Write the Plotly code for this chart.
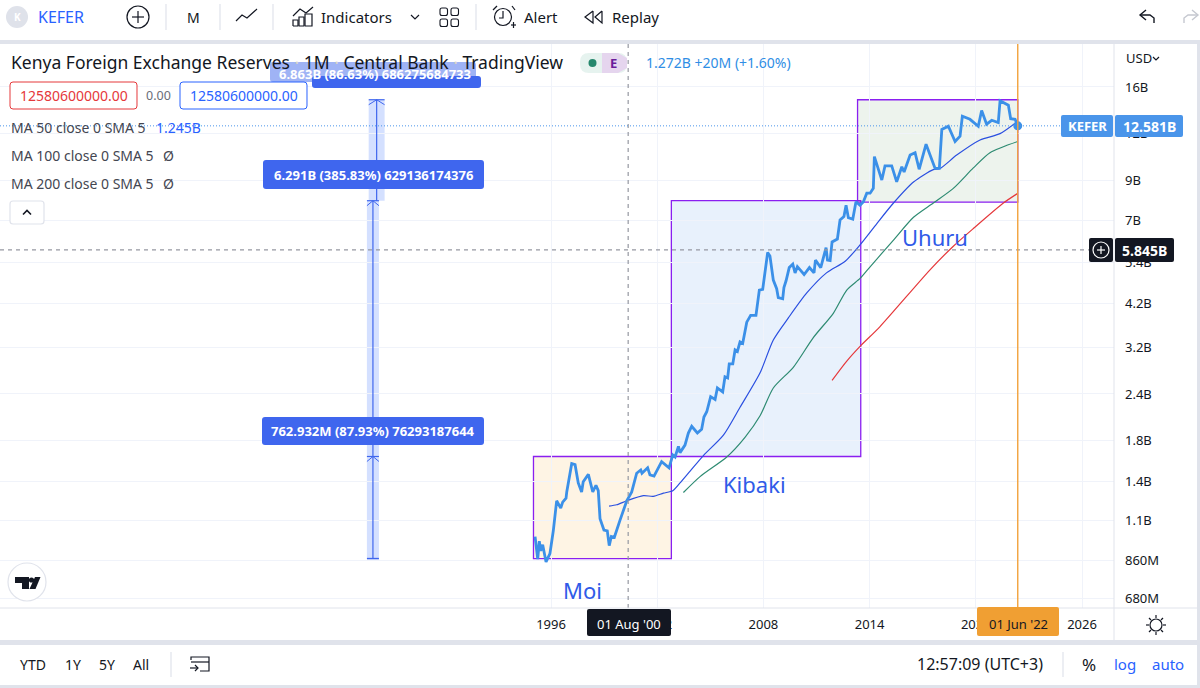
import math
import plotly.graph_objects as go

# chart values, dates as decimal years, reserves in billions of USD
reserve_yr = [1995.10, 1995.25, 1995.34, 1995.42, 1995.53, 1995.72, 1995.94, 1996.13, 1996.32, 1996.55, 1996.66, 1996.85,
              1996.89, 1997.17, 1997.36, 1997.54, 1997.73, 1997.82, 1998.11, 1998.36, 1998.54, 1998.67, 1998.77, 1998.99,
              1999.18, 1999.29, 1999.41, 1999.58, 1999.90, 2000.28, 2000.56, 2000.84, 2001.07, 2001.14, 2001.46, 2001.59,
              2001.82, 2002.25, 2002.67, 2002.88, 2003.01, 2003.20, 2003.29, 2003.57, 2003.76, 2003.95, 2004.27, 2004.51,
              2004.64, 2004.80, 2005.02, 2005.27, 2005.40, 2005.70, 2005.83, 2005.98, 2006.07, 2006.27, 2006.40, 2006.53,
              2006.68, 2006.83, 2007.06, 2007.28, 2007.58, 2007.77, 2007.96, 2008.24, 2008.37, 2008.56, 2008.75, 2008.84,
              2009.09, 2009.16, 2009.28, 2009.46, 2009.66, 2009.79, 2009.92, 2010.30, 2010.60, 2010.86, 2010.94, 2011.24,
              2011.54, 2011.62, 2011.77, 2011.88, 2012.18, 2012.33, 2012.55, 2012.67, 2012.80, 2013.05, 2013.23, 2013.46,
              2013.65, 2013.84, 2014.03, 2014.21, 2014.27, 2014.69, 2014.87, 2015.25, 2015.53, 2015.82, 2015.95, 2016.29,
              2016.57, 2016.80, 2017.19, 2017.46, 2017.70, 2017.94, 2018.08, 2018.45, 2018.83, 2019.11, 2019.24, 2019.67,
              2020.14, 2020.33, 2020.61, 2020.90, 2021.27, 2021.37, 2021.84, 2021.97, 2022.22, 2022.37]
reserve_val = [0.994, 0.865, 0.966, 0.91, 0.945, 0.85, 0.895, 1.03, 1.24, 1.185, 1.23, 1.26,
               1.31, 1.56, 1.55, 1.385, 1.31, 1.395, 1.46, 1.31, 1.365, 1.32, 1.11, 1.035,
               1.03, 0.94, 0.995, 0.99, 1.10, 1.24, 1.31, 1.47, 1.50, 1.47, 1.52, 1.455,
               1.445, 1.58, 1.52, 1.645, 1.625, 1.735, 1.67, 1.75, 1.885, 1.965, 1.885, 1.93,
               2.08, 2.15, 2.36, 2.32, 2.49, 2.43, 2.67, 2.65, 2.89, 2.89, 3.15, 3.12,
               3.31, 3.28, 3.74, 3.90, 3.90, 4.56, 4.58, 5.75, 5.63, 4.85, 4.60, 4.35,
               4.32, 4.63, 4.83, 5.24, 5.35, 5.07, 5.27, 5.02, 5.24, 5.07, 5.49, 5.24,
               5.93, 5.49, 5.47, 6.14, 6.25, 7.03, 7.18, 7.70, 7.13, 7.07, 7.87, 7.70,
               7.87, 8.30, 8.30, 8.55, 10.4, 9.0, 9.82, 9.82, 8.9, 9.77, 9.46, 10.5,
               10.66, 9.62, 11.23, 10.38, 9.67, 9.67, 12.3, 12.55, 11.42, 11.8, 13.35, 13.1,
               12.55, 13.83, 12.71, 13.02, 12.84, 14.7, 14.29, 13.15, 13.1, 12.581]

ma50_yr = [1999.28, 1999.71, 2000.28, 2001.22, 2001.78, 2002.35, 2002.88, 2003.29, 2003.86, 2004.61, 2005.74, 2006.68,
           2007.82, 2008.56, 2009.41, 2010.45, 2011.58, 2012.62, 2013.46, 2014.41, 2015.35, 2016.48, 2017.60, 2017.98,
           2018.92, 2020.24, 2021.37, 2022.37]
ma50_val = [1.20, 1.21, 1.24, 1.28, 1.275, 1.30, 1.32, 1.385, 1.49, 1.64, 1.86, 2.21,
            2.74, 3.35, 3.84, 4.48, 5.08, 5.45, 6.03, 6.88, 7.81, 8.89, 9.6, 9.67,
            10.5, 11.53, 11.99, 12.95]
ma100_yr = [2003.48, 2004.42, 2005.93, 2006.96, 2007.82, 2008.56, 2009.69, 2010.82, 2011.95, 2012.71, 2013.46, 2013.93,
            2015.35, 2016.48, 2017.60, 2018.73, 2019.86, 2020.80, 2022.37]
ma100_val = [1.305, 1.44, 1.625, 1.835, 2.10, 2.49, 2.83, 3.40, 3.95, 4.56, 4.90, 5.20,
             6.21, 7.15, 7.81, 8.55, 9.7, 10.66, 11.42]
ma200_yr = [2011.88, 2012.71, 2013.46, 2014.59, 2017.40, 2018.73, 2019.86, 2021.56, 2022.37]
ma200_val = [2.61, 2.94, 3.22, 3.64, 5.16, 5.98, 6.67, 7.81, 8.29]

year_ticks = [1996, 2002, 2008, 2014, 2020, 2026]
price_ticks = [16, 12, 9, 7, 5.4, 4.2, 3.2, 2.4, 1.8, 1.4, 1.1, 0.86, 0.68]
price_labels = ['16B', '12B', '9B', '7B', '5.4B', '4.2B', '3.2B', '2.4B', '1.8B', '1.4B', '1.1B', '860M', '680M']

# presidency boxes: name, start, end, low, high
era_names = ['Moi', 'Kibaki', 'Uhuru']
era_start = [1995.01, 2002.80, 2013.32]
era_end = [2002.80, 2013.50, 2022.37]
era_low = [0.8676, 1.6305, 7.85]
era_high = [1.6305, 7.9215, 14.785]
era_fill = ['rgba(245,166,35,0.12)', 'rgba(33,118,230,0.10)', 'rgba(76,140,74,0.10)']

measure_low = [0.8676, 1.6305, 7.9215]
measure_high = [1.6305, 7.9215, 14.785]
measure_yr = [1985.94, 1985.94, 1986.15]
measure_halfwidth = [0.34, 0.34, 0.45]

cross_yr = 2000.36
cross_val = 5.845

W, H = 1200, 688
L, R, T, B = 0, 1114, 44, 608
X_RANGE = [1996 - 551 / 17.7, 1996 + 563 / 17.7]
Y_RANGE = [-0.1943, 1.3194]
FONT = 'Noto Sans'
BLUE = '#2962ff'
LABEL = '#3f66ee'
PURPLE = '#8a1ff0'
DARK = '#131722'
BORDER = '#e0e3eb'

shapes = []
notes = []


def xp(px):
    return (px - L) / (R - L)


def yp(py):
    return (B - py) / (B - T)


def yr_px(yr):
    return L + (yr - X_RANGE[0]) / (X_RANGE[1] - X_RANGE[0]) * (R - L)


def val_px(v):
    return B - (math.log10(v) - Y_RANGE[0]) / (Y_RANGE[1] - Y_RANGE[0]) * (B - T)


def draw(d, fill=None, line=None, w=1.0, layer='above', dash=None):
    shapes.append(dict(type='path', path=d, xref='paper', yref='paper', layer=layer,
                       fillcolor=fill or 'rgba(0,0,0,0)',
                       line=dict(color=line or 'rgba(0,0,0,0)', width=w if line else 0, dash=dash)))


def poly(pts, close=False):
    d = 'M' + ' L'.join(f'{xp(x):.5f},{yp(y):.5f}' for x, y in pts)
    return d + (' Z' if close else '')


def seg(pts, color=DARK, w=1.2):
    draw(poly(pts), line=color, w=w)


def rrect(x0, y0, x1, y1, r=3, fill=None, line=None, w=1.0):
    c = lambda x, y: f'{xp(x):.5f},{yp(y):.5f}'
    d = (f'M{c(x0 + r, y0)} L{c(x1 - r, y0)} Q{c(x1, y0)} {c(x1, y0 + r)} L{c(x1, y1 - r)} Q{c(x1, y1)} {c(x1 - r, y1)} '
         f'L{c(x0 + r, y1)} Q{c(x0, y1)} {c(x0, y1 - r)} L{c(x0, y0 + r)} Q{c(x0, y0)} {c(x0 + r, y0)} Z')
    draw(d, fill=fill, line=line, w=w)


def circle(cx, cy, r, fill=None, line=None, w=1.2):
    shapes.append(dict(type='circle', xref='paper', yref='paper', layer='above',
                       x0=xp(cx - r), x1=xp(cx + r), y0=yp(cy + r), y1=yp(cy - r),
                       fillcolor=fill or 'rgba(0,0,0,0)',
                       line=dict(color=line or 'rgba(0,0,0,0)', width=w if line else 0)))


def text(x, y, s, size=14, color=DARK, anchor='left'):
    notes.append(dict(x=xp(x), y=yp(y), text=s, xref='paper', yref='paper', showarrow=False,
                      xanchor=anchor, yanchor='middle', align=anchor, borderpad=0,
                      font=dict(family=FONT, size=size, color=color)))


fig = go.Figure()
smooth = dict(shape='spline', smoothing=0.7, width=1.2)
fig.add_trace(go.Scatter(x=ma200_yr, y=ma200_val, mode='lines', line=dict(color='#e5383b', **smooth)))
fig.add_trace(go.Scatter(x=ma100_yr, y=ma100_val, mode='lines', line=dict(color='#2e8b72', **smooth)))
fig.add_trace(go.Scatter(x=ma50_yr, y=ma50_val, mode='lines', line=dict(color='#2a4fe0', **smooth)))
fig.add_trace(go.Scatter(x=reserve_yr, y=reserve_val, mode='lines', line=dict(color='#3b90e8', width=2.8)))
fig.add_trace(go.Scatter(x=reserve_yr[-1:], y=reserve_val[-1:], mode='markers',
                         marker=dict(color='#3b90e8', size=9)))

# presidency boxes
for i in range(len(era_names)):
    shapes.append(dict(type='rect', xref='x', yref='y', layer='below',
                       x0=era_start[i], x1=era_end[i], y0=era_low[i], y1=era_high[i],
                       fillcolor=era_fill[i], line=dict(color=PURPLE, width=1.3)))

# measure tool
for i in range(3):
    hw = measure_halfwidth[i]
    shapes.append(dict(type='rect', xref='x', yref='y', layer='below',
                       x0=measure_yr[i] - hw, x1=measure_yr[i] + hw, y0=measure_low[i], y1=measure_high[i],
                       fillcolor='rgba(41,98,255,0.2)', line=dict(width=0)))
    cx = yr_px(measure_yr[i])
    top, bot = val_px(measure_high[i]), val_px(measure_low[i])
    half = hw * 17.7
    seg([(cx, bot), (cx, top)], color=LABEL, w=1.2)
    seg([(cx - half, top), (cx + half, top)], color=LABEL, w=1.2)
    seg([(cx - half, top + 5), (cx, top), (cx + half, top + 5)], color=LABEL, w=1.0)
seg([(yr_px(measure_yr[0]) - 6, val_px(measure_low[0])), (yr_px(measure_yr[0]) + 6, val_px(measure_low[0]))], color=LABEL, w=1.5)

# crosshair, last price line, date marker
shapes.append(dict(type='line', xref='x', yref='paper', x0=cross_yr, x1=cross_yr, y0=0, y1=1, layer='above',
                   line=dict(color='#9598a1', width=1.2, dash='4px,4px')))
shapes.append(dict(type='line', xref='paper', yref='y', x0=0, x1=xp(1089), y0=cross_val, y1=cross_val, layer='above',
                   line=dict(color='#9598a1', width=1.2, dash='4px,4px')))
shapes.append(dict(type='line', xref='paper', yref='y', x0=0, x1=xp(1061), y0=reserve_val[-1], y1=reserve_val[-1],
                   layer='above', line=dict(color='#4a95ea', width=1, dash='1px,2px')))
shapes.append(dict(type='line', xref='x', yref='paper', x0=reserve_yr[-1], x1=reserve_yr[-1], y0=0, y1=1, layer='above',
                   line=dict(color='#f2a23c', width=1.4)))

# panel frame
draw(poly([(0, 40), (W, 40), (W, 44), (0, 44)], True), fill=BORDER)
draw(poly([(0, 640), (W, 640), (W, 645), (0, 645)], True), fill=BORDER)
draw(poly([(0, 685), (W, 685), (W, H), (0, H)], True), fill=BORDER)
draw(poly([(1197, 40), (W, 40), (W, H), (1197, H)], True), fill=BORDER)
seg([(R, 44), (R, 640)], color=BORDER, w=1)
seg([(0, 608), (1197, 608)], color=BORDER, w=1)

# top toolbar
circle(17, 17, 11, fill='#dfe2ea')
text(17, 17, '<b>K</b>', 10, 'white', 'center')
text(37, 17, 'KEFER', 16, BLUE)
circle(138, 17, 11, line=DARK)
seg([(132, 17), (144, 17)])
seg([(138, 11), (138, 23)])
for x in (166, 220, 273, 476):
    seg([(x, 4), (x, 30)], color=BORDER, w=1.2)
text(193, 17, 'M', 14, DARK, 'center')
seg([(236, 21), (242, 15), (247, 18), (257, 9)])
seg([(293, 16), (300, 9), (306, 13), (313, 7)])
seg([(293, 26), (293, 20), (298, 20), (298, 26), (293, 26)])
seg([(299, 26), (299, 17), (304, 17), (304, 26), (299, 26)])
seg([(305, 26), (305, 14), (312, 14), (312, 26), (305, 26)])
text(320, 17, 'Indicators', 15)
seg([(411, 15), (415, 19), (419, 15)])
for a, b in ((440, 8), (451, 8), (440, 19), (451, 19)):
    rrect(a, b, a + 7.5, b + 7.5, 2, line=DARK, w=1.1)
circle(503, 17, 8.5, line=DARK)
seg([(503, 11), (503, 18), (499, 18)])
seg([(493, 10), (497, 6)])
seg([(512, 6), (515, 10)])
seg([(511, 25), (516, 25)], w=1.2)
seg([(513.5, 22), (513.5, 28)], w=1.2)
text(523, 17, 'Alert', 15)
seg([(593, 11), (585, 17), (593, 23), (593, 11)])
seg([(602, 11), (595, 17), (602, 23), (602, 11)])
text(611, 17, 'Replay', 15)
seg([(1146, 10), (1140, 15), (1146, 20)], w=1.4)
seg([(1140, 15), (1150, 15), (1154, 18), (1154, 23)], w=1.4)
seg([(1192, 10), (1198, 15), (1192, 20)], color='#c5c8d0', w=1.4)
seg([(1198, 15), (1188, 15), (1184, 18), (1184, 23)], color='#c5c8d0', w=1.4)

# measure labels
rrect(270, 62, 476, 82, 3, fill='#9fb3f5')
rrect(312, 76, 481, 88, 3, fill=LABEL)
rrect(263, 160, 484, 189, 3, fill=LABEL)
rrect(262, 417, 484, 445, 3, fill=LABEL)
text(375, 74, '<b>6.863B (86.63%) 686275684733</b>', 13, 'white', 'center')
text(373, 174.5, '<b>6.291B (385.83%) 629136174376</b>', 13, 'white', 'center')
text(373, 431, '<b>762.932M (87.93%) 76293187644</b>', 13, 'white', 'center')

# legend
dot = '<span style="color:#d8d4c8"> · </span>'
text(10, 62, f'Kenya Foreign Exchange Reserves{dot}1M{dot}Central Bank{dot}TradingView', 17.5)
rrect(10, 82, 137, 109, 3, fill='white', line='#e5383b')
text(73.5, 95, '12580600000.00', 14, '#e5383b', 'center')
text(158, 95, '0.00', 12.5, '#6a6d78', 'center')
rrect(180, 82, 307, 109, 3, fill='white', line=BLUE)
text(243.5, 95, '12580600000.00', 14, BLUE, 'center')
text(10, 127, 'MA 50 close 0 SMA 5', 14, '#434651')
text(155, 127, '1.245B', 14, BLUE)
text(10, 155, 'MA 100 close 0 SMA 5', 14, '#434651')
text(162, 155, 'Ø', 14, '#434651')
text(10, 183, 'MA 200 close 0 SMA 5', 14, '#434651')
text(162, 183, 'Ø', 14, '#434651')
rrect(10, 201, 44, 224, 3, fill='white', line=BORDER, w=1.2)
seg([(23, 214.5), (27, 210.5), (31, 214.5)], w=1.6)
rrect(580, 53, 627, 73, 9, fill='#e6f3ef')
draw(poly([(602, 53), (618, 53), (627, 58), (627, 68), (618, 73), (602, 73)], True), fill='#e5d5ee')
circle(592.5, 63, 4, fill='#26886d')
text(613, 63, '<b>E</b>', 13, '#6a1b9a', 'center')
text(645, 63, '1.272B +20M (+1.60%)', 14, '#2f8ee5')

# names on the chart
for i, name in enumerate(era_names):
    text([582, 754, 935][i], [590, 484, 237][i], name, 22, '#2f5be8', 'center')

# price scale tags
rrect(1061, 115, 1113, 137, 2, fill='#4a95ea')
rrect(1115, 115, 1183, 137, 2, fill='#4a95ea')
text(1087, 126, '<b>KEFER</b>', 13, 'white', 'center')
text(1149, 126, '<b>12.581B</b>', 14, 'white', 'center')
rrect(1089, 238, 1113, 262, 2, fill=DARK)
rrect(1115, 238, 1174, 262, 2, fill=DARK)
circle(1101, 250, 8, line='white')
seg([(1097, 250), (1105, 250)], color='white')
seg([(1101, 246), (1101, 254)], color='white')
text(1144.5, 250, '<b>5.845B</b>', 14, 'white', 'center')
text(1125, 58, 'USD', 13, '#131722')
seg([(1153, 57), (1156, 60), (1159, 57)])

# time scale tags
rrect(587, 609, 671, 636, 2, fill=DARK)
text(629, 624, "01 Aug '00", 13, 'white', 'center')
rrect(977, 607, 1059, 636, 2, fill='#f09f33')
text(1018, 624, "01 Jun '22", 13, DARK, 'center')
circle(1156, 625, 6, line=DARK)
for a, b, c, d in ((1156, 615, 1156, 618), (1156, 632, 1156, 635), (1146, 625, 1149, 625), (1163, 625, 1166, 625),
                   (1149, 618, 1151, 620), (1161, 630, 1163, 632), (1149, 632, 1151, 630), (1161, 620, 1163, 618)):
    seg([(a, b), (c, d)])

# bottom toolbar
text(33, 664, 'YTD', 14, DARK, 'center')
text(73, 664, '1Y', 14, DARK, 'center')
text(107, 664, '5Y', 14, DARK, 'center')
text(141, 664, 'All', 14, DARK, 'center')
seg([(171, 652), (171, 677)], color=BORDER, w=1.2)
seg([(191, 660), (191, 657), (209, 657), (209, 671), (200, 671)])
seg([(191, 662), (209, 662)])
seg([(190, 668), (198, 668)])
seg([(195, 665), (198, 668), (195, 671)])
text(980, 664, '12:57:09 (UTC+3)', 16, DARK, 'center')
seg([(1063, 652), (1063, 677)], color=BORDER, w=1.2)
text(1089, 664, '%', 17, DARK, 'center')
text(1125, 664, 'log', 15, BLUE, 'center')
text(1168, 664, 'auto', 15, BLUE, 'center')

# TradingView badge
circle(27, 582, 19, fill='white', line=BORDER)
draw(poly([(15, 577), (29, 577), (29, 589), (22, 589), (22, 583), (15, 583)], True), fill=DARK)
circle(31.5, 580, 2.6, fill=DARK)
draw(poly([(29.5, 589), (35, 577), (40.5, 577), (35.5, 589)], True), fill=DARK)

fig.update_layout(
    width=W, height=H, margin=dict(l=L, r=W - R, t=T, b=H - B),
    paper_bgcolor='white', plot_bgcolor='white', showlegend=False,
    font=dict(family=FONT, size=13, color=DARK),
    shapes=shapes, annotations=notes,
    xaxis=dict(range=X_RANGE, tickmode='array', tickvals=year_ticks, ticktext=[str(y) for y in year_ticks],
               showgrid=True, gridcolor='#f0f3fa', zeroline=False, showline=False, ticks='', ticklabelstandoff=7,
               tickfont=dict(family=FONT, size=13, color=DARK)),
    yaxis=dict(type='log', range=Y_RANGE, side='right', tickmode='array', tickvals=price_ticks, ticktext=price_labels,
               showgrid=True, gridcolor='#f0f3fa', zeroline=False, showline=False, ticks='', ticklabelstandoff=10,
               tickfont=dict(family=FONT, size=13, color='#131722')),
)

fig.write_html("out.html", config=dict(displayModeBar=False),
               post_script="document.body.style.margin='0';")
